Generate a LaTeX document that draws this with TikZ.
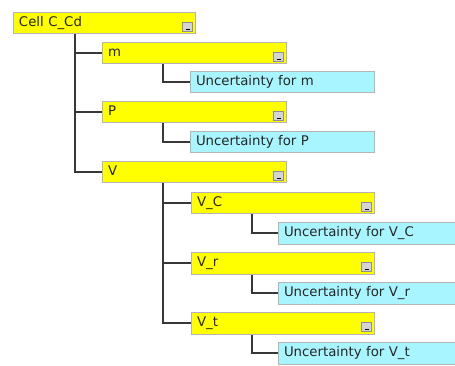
\documentclass[tikz,border=0pt]{standalone}
\usepackage{fontspec}
\setmainfont{DejaVu Sans}
\usetikzlibrary{calc}
\definecolor{itemfill}{HTML}{FFFF00}
\definecolor{uncfill}{HTML}{A9F5FF}
\definecolor{boxedge}{HTML}{B4B4B4}
\definecolor{boxshade}{HTML}{8E8E8E}
\definecolor{linkcol}{HTML}{383838}
\definecolor{textdark}{HTML}{262626}
\definecolor{btnfill}{HTML}{D4D4D4}
\tikzset{
  panel/.style={draw=boxedge, line width=1pt, anchor=north west,
    inner xsep=5.5pt, inner ysep=0pt, minimum height=21.5pt, text width=#1,
    align=left, text=textdark, font=\fontsize{13.3}{15}\selectfont,
    text height=10pt, text depth=3pt},
  item/.style={panel=#1, fill=itemfill},
  unc/.style={panel=#1, fill=uncfill},
  btn/.style={draw=boxshade, fill=btnfill, line width=0.6pt, anchor=south east,
    minimum width=10pt, minimum height=9pt, inner sep=0pt,
    path picture={\draw[black, line width=1.1pt]
      ($(path picture bounding box.south west)+(3,-2.3)$) --
      ($(path picture bounding box.south east)+(-3,-2.3)$);}},
  link/.style={draw=linkcol, line width=2pt},
}
\begin{document}
\begin{tikzpicture}[x=1pt, y=-1pt]
  \useasboundingbox (0,0) rectangle (455,366);
  \fill[white] (0,0) rectangle (455,366);

  % parameter boxes
  \node[item=171pt] (root) at (13,12)  {Cell C\_Cd};
  \node[item=173pt] (m)    at (102,42) {m};
  \node[unc=173pt]  (um)   at (190,71) {Uncertainty for m};
  \node[item=173pt] (P)    at (102,101) {P};
  \node[unc=173pt]  (uP)   at (190,131) {Uncertainty for P};
  \node[item=173pt] (V)    at (102,161) {V};
  \node[item=172pt] (VC)   at (191,192) {V\_C};
  \node[unc=171pt]  (uVC)  at (278,222) {Uncertainty for V\_C};
  \node[item=172pt] (Vr)   at (191,252) {V\_r};
  \node[unc=171pt]  (uVr)  at (278,282) {Uncertainty for V\_r};
  \node[item=172pt] (Vt)   at (191,312) {V\_t};
  \node[unc=171pt]  (uVt)  at (278,342) {Uncertainty for V\_t};

  % collapse buttons
  \foreach \b in {root, m, P, V, VC, Vr, Vt}
    \node[btn] (\b-btn) at ($(\b.south east)+(-3,-2.5)$) {};

  % tree connectors
  \draw[link] ($(root.south west)+(62,0)$) |- (m.west);
  \draw[link] ($(root.south west)+(62,0)$) |- (P.west);
  \draw[link] ($(root.south west)+(62,0)$) |- (V.west);
  \draw[link] ($(m.south west)+(61,0)$) |- (um.west);
  \draw[link] ($(P.south west)+(61,0)$) |- (uP.west);
  \draw[link] ($(V.south west)+(61,0)$) |- (VC.west);
  \draw[link] ($(V.south west)+(61,0)$) |- (Vr.west);
  \draw[link] ($(V.south west)+(61,0)$) |- (Vt.west);
  \draw[link] ($(VC.south west)+(61,0)$) |- (uVC.west);
  \draw[link] ($(Vr.south west)+(61,0)$) |- (uVr.west);
  \draw[link] ($(Vt.south west)+(61,0)$) |- (uVt.west);
\end{tikzpicture}
\end{document}
